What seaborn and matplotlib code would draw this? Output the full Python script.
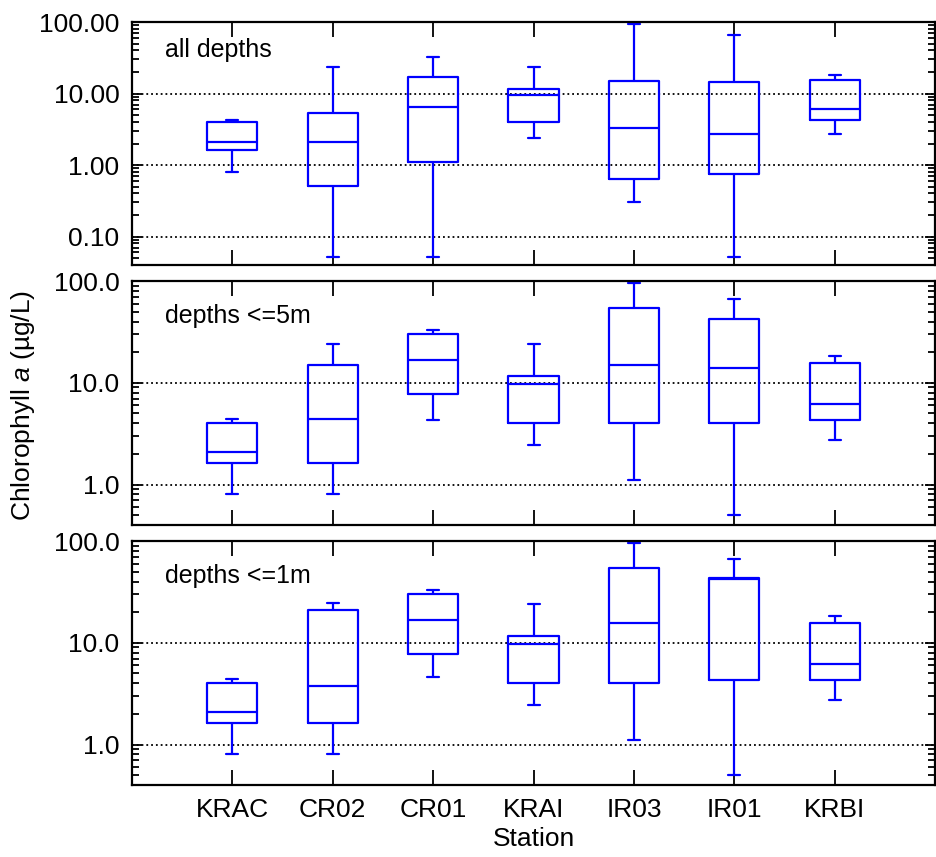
import pandas as pd
import matplotlib.pyplot as plt
import seaborn as sns
from matplotlib.ticker import LogLocator, NullFormatter

# ----------------------------------------------------------
# Data (five-number summaries)
# order per station: low whisker, q1, median, q3, high whisker
# ----------------------------------------------------------

STATIONS = ["KRAC", "CR02", "CR01", "KRAI", "IR03", "IR01", "KRBI"]

all_depths = [
    [0.81, 1.62, 2.11, 3.96, 4.3],
    [0.052, 0.51, 2.11, 5.3, 23.7],
    [0.052, 1.10, 6.4, 17.0, 32.3],
    [2.40, 4.0, 9.5, 11.4, 23.7],
    [0.30, 0.63, 3.3, 14.8, 93.5],
    [0.051, 0.75, 2.70, 14.4, 66.0],
    [2.70, 4.3, 6.1, 15.3, 18.0],
]

depths_5m = [
    [0.80, 1.62, 2.11, 4.04, 4.36],
    [0.80, 1.62, 4.36, 15.1, 24.2],
    [4.33, 7.7, 16.8, 29.9, 32.7],
    [2.42, 4.01, 9.7, 11.6, 24.2],
    [1.11, 4.01, 15.0, 53.8, 94.8],
    [0.50, 4.01, 13.9, 42.3, 67.0],
    [2.71, 4.33, 6.17, 15.6, 18.3],
]

depths_1m = [
    [0.80, 1.62, 2.11, 4.04, 4.36],
    [0.80, 1.62, 3.78, 20.8, 24.4],
    [4.56, 7.7, 16.8, 29.9, 32.7],
    [2.42, 4.01, 9.7, 11.6, 24.2],
    [1.11, 4.01, 15.6, 53.8, 94.8],
    [0.50, 4.33, 42.0, 43.6, 67.0],
    [2.71, 4.33, 6.17, 15.6, 18.3],
]

PANEL_NAMES = ["all depths", "depths <=5m", "depths <=1m"]
PANEL_DATA = [all_depths, depths_5m, depths_1m]

YTICKS_ALL = [0.1, 1, 10, 100]
YTICKLABELS_ALL = ["0.10", "1.00", "10.00", "100.00"]
YTICKS_SUB = [1, 10, 100]
YTICKLABELS_SUB = ["1.0", "10.0", "100.0"]

# ----------------------------------------------------------
# Style
# ----------------------------------------------------------

sns.set_theme(style="ticks")
plt.rcParams["font.family"] = ["Liberation Sans", "DejaVu Sans"]
plt.rcParams["mathtext.fontset"] = "custom"
plt.rcParams["mathtext.rm"] = "Liberation Sans"
plt.rcParams["mathtext.it"] = "Liberation Sans:italic"
plt.rcParams["text.color"] = "black"
plt.rcParams["axes.labelcolor"] = "black"

fig = plt.figure(figsize=(9.37, 8.57), dpi=100)

left, width = 0.1409, 0.857
axes_rect = [
    [left, 0.6908, width, 0.2835],
    [left, 0.3874, width, 0.2847],
    [left, 0.0840, width, 0.2847],
]
ylims = [(0.04, 100), (0.4, 100), (0.4, 100)]
text_y = [0.935, 0.905, 0.905]

for i, (name, data) in enumerate(zip(PANEL_NAMES, PANEL_DATA)):
    ax = fig.add_axes(axes_rect[i])

    rows = []
    for station, vals in zip(STATIONS, data):
        for v in vals:
            rows.append({"station": station, "chl": v})
    df = pd.DataFrame(rows)

    sns.boxplot(
        data=df,
        x="station",
        y="chl",
        order=STATIONS,
        width=0.5,
        whis=(0, 100),
        fill=False,
        color="blue",
        saturation=1,
        linewidth=1.6,
        log_scale=True,
        capwidths=0.12,
        ax=ax,
    )

    ax.set_xlim(-1, 7)
    ax.set_ylim(*ylims[i])

    if i == 0:
        ax.set_yticks(YTICKS_ALL)
        ax.set_yticklabels(YTICKLABELS_ALL)
    else:
        ax.set_yticks(YTICKS_SUB)
        ax.set_yticklabels(YTICKLABELS_SUB)
    ax.yaxis.set_minor_locator(LogLocator(base=10, subs=range(2, 10), numticks=20))
    ax.yaxis.set_minor_formatter(NullFormatter())

    ax.yaxis.grid(True, which="major", linestyle=":", color="black", linewidth=1.3)
    ax.xaxis.grid(False)

    ax.tick_params(axis="both", which="both", direction="in",
                   top=True, right=True, colors="black", labelsize=19, width=1.3)
    ax.tick_params(axis="x", which="major", length=11, pad=9)
    ax.tick_params(axis="y", which="major", length=7, pad=9)
    ax.tick_params(axis="y", which="minor", length=5)

    for sp in ax.spines.values():
        sp.set_color("black")
        sp.set_linewidth(1.6)

    ax.text(0.041, text_y[i], name, transform=ax.transAxes,
            ha="left", va="top", fontsize=18)

    ax.set_ylabel("")
    if i < 2:
        ax.tick_params(axis="x", labelbottom=False)
        ax.set_xlabel("")
    else:
        ax.set_xlabel("Station", fontsize=19, labelpad=4)

fig.text(0.025, 0.527, r"Chlorophyll $\mathit{a}$ (µg/L)",
         rotation=90, ha="center", va="center", fontsize=19)

fig.savefig("out.png", dpi=100)
plt.close(fig)
